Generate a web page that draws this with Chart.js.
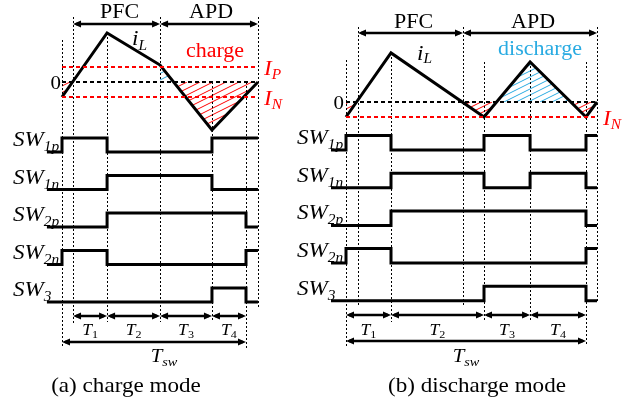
<!DOCTYPE html>
<html>
<head>
<meta charset="utf-8">
<script src="https://cdn.jsdelivr.net/npm/chart.js@4/dist/chart.umd.min.js"></script>
<style>
html, body { margin: 0; padding: 0; background: #fff; }
canvas { display: block; }
</style>
</head>
<body>
<canvas id="wave" width="625" height="403"></canvas>
<script>
// time is given in % of Tsw, current in units of I_P (I_N = -1)

// (a) charge mode
var edgesA = [0, 6, 24.5, 53.3, 81.5, 100, 106.5];
var iLTimeA = [0, 24.5, 53.3, 81.5, 106.5];
var iLValA = [-1, 3.27, 1.13, -3.2, 0];
var startA = -8.2;
var sw1pA = [[0, 1], [24.5, 0], [81.5, 1]];
var sw1nA = [[24.5, 1], [81.5, 0]];
var sw2pA = [[24.5, 1], [100, 0]];
var sw2nA = [[0, 1], [24.5, 0], [100, 1]];
var sw3A = [[81.5, 1], [100, 0]];
var periodsA = [6, 24.5, 53.3, 81.5, 100];   // T1..T4 arrow ends

// (b) discharge mode
var edgesB = [0, 5, 18.75, 48.75, 57.5, 76.7, 100, 104.6];
var iLTimeB = [0, 18.75, 57.5, 76.7, 100, 104.6];
var iLValB = [-1, 3.27, -1, 2.67, -1, 0];
var startB = -6.25;
var sw1pB = [[0, 1], [18.75, 0], [57.5, 1], [76.7, 0], [100, 1]];
var sw1nB = [[18.75, 1], [57.5, 0], [76.7, 1], [100, 0]];
var sw2pB = [[18.75, 1], [100, 0]];
var sw2nB = [[0, 1], [18.75, 0], [100, 1]];
var sw3B = [[57.5, 1], [100, 0]];
var periodsB = [0, 18.75, 57.5, 76.7, 100];

var swSubs = ['1p', '1n', '2p', '2n', '3'];
var IP = 1, IN = -1;

// styles
var RED = '#ff0000', BLUE = '#29abe2';
var SX = 1.1;   // the figure is a little stretched sideways
var FONT = '"Liberation Serif", "Times New Roman", serif';
var pitchA = 2.68, pitchB = 2.6;

function lane(sig, k, start, end, pitch) {
  var off = -k * pitch;
  var pts = [{x: start, y: off}];
  var last = 0;
  sig.forEach(function (p) { pts.push({x: p[0], y: p[1] + off}); last = p[1]; });
  pts.push({x: end, y: last + off});
  return pts;
}

function flat(t0, t1, v) { return [{x: t0, y: v}, {x: t1, y: v}]; }

function zipPts(ts, vs) { return ts.map(function (t, i) { return {x: t, y: vs[i]}; }); }

var datasets = [];
function addLine(data, xId, yId, color, width, dash, stepped) {
  datasets.push({
    data: data, xAxisID: xId, yAxisID: yId, showLine: true,
    borderColor: color, borderWidth: width, borderDash: dash || [],
    pointRadius: 0, fill: false, stepped: stepped || false,
    borderJoinStyle: 'miter', borderCapStyle: 'butt'
  });
}

var endA = edgesA[edgesA.length - 1], endB = edgesB[edgesB.length - 1];
addLine(flat(0, endA, 0), 'xa', 'yia', '#000', 2, [4, 3]);
addLine(flat(0, endA, IP), 'xa', 'yia', RED, 2, [4, 3]);
addLine(flat(0, endA, IN), 'xa', 'yia', RED, 2, [4, 3]);
addLine(flat(0, endB, 0), 'xb', 'yib', '#000', 2, [4, 3]);
addLine(flat(0, endB, IN), 'xb', 'yib', RED, 2, [4, 3]);
addLine(zipPts(iLTimeA, iLValA), 'xa', 'yia', '#000', 3);
addLine(zipPts(iLTimeB, iLValB), 'xb', 'yib', '#000', 3);
[sw1pA, sw1nA, sw2pA, sw2nA, sw3A].forEach(function (s, k) {
  addLine(lane(s, k, startA, endA, pitchA), 'xa', 'ysa', '#000', 3, null, true);
});
[sw1pB, sw1nB, sw2pB, sw2nB, sw3B].forEach(function (s, k) {
  addLine(lane(s, k, startB, endB, pitchB), 'xb', 'ysb', '#000', 3, null, true);
});

// ---- helpers for the overlay ----
function interp(ts, vs, t) {
  for (var i = 0; i < ts.length - 1; i++) {
    if (t >= ts[i] && t <= ts[i + 1]) return vs[i] + (vs[i + 1] - vs[i]) * (t - ts[i]) / (ts[i + 1] - ts[i]);
  }
  return 0;
}

// area between iL and zero, only on one side of zero
function hatchPoly(ts, vs, t0, t1, sign) {
  var br = [t0, t1];
  ts.forEach(function (t) { if (t > t0 && t < t1) br.push(t); });
  for (var i = 0; i < ts.length - 1; i++) {
    var a = vs[i], b = vs[i + 1];
    if ((a < 0 && b > 0) || (a > 0 && b < 0)) {
      var tc = ts[i] + (ts[i + 1] - ts[i]) * (-a) / (b - a);
      if (tc > t0 && tc < t1) br.push(tc);
    }
  }
  br.sort(function (p, q) { return p - q; });
  var pts = br.map(function (t) {
    var v = interp(ts, vs, t);
    return [t, sign > 0 ? Math.max(v, 0) : Math.min(v, 0)];
  });
  pts.push([t1, 0], [t0, 0]);
  return pts;
}

function hatch(ctx, xs, ys, poly, color, gap) {
  var px = poly.map(function (p) { return [xs.getPixelForValue(p[0]), ys.getPixelForValue(p[1])]; });
  var L = 1e9, R = -1e9, T = 1e9, B = -1e9;
  px.forEach(function (p) { L = Math.min(L, p[0]); R = Math.max(R, p[0]); T = Math.min(T, p[1]); B = Math.max(B, p[1]); });
  ctx.save();
  ctx.beginPath();
  px.forEach(function (p, i) { if (i) ctx.lineTo(p[0], p[1]); else ctx.moveTo(p[0], p[1]); });
  ctx.closePath();
  ctx.clip();
  ctx.strokeStyle = color;
  ctx.lineWidth = 1;
  var h = B - T, run = h / 0.5;
  ctx.beginPath();
  for (var x = Math.floor((L - run) / gap) * gap; x <= R; x += gap) {
    ctx.moveTo(x, B);
    ctx.lineTo(x + run, T);
  }
  ctx.stroke();
  ctx.restore();
}

function put(ctx, s, x, y, o) {
  o = o || {};
  ctx.save();
  ctx.font = (o.italic ? 'italic ' : '') + (o.size || 20) + 'px ' + FONT;
  ctx.fillStyle = o.color || '#000';
  ctx.textBaseline = 'alphabetic';
  var w = ctx.measureText(s).width * SX;
  var x0 = o.align === 'center' ? x - w / 2 : (o.align === 'right' ? x - w : x);
  ctx.translate(x0, y);
  ctx.scale(SX, 1);
  ctx.fillText(s, 0, 0);
  ctx.restore();
  return w;
}

function sym(ctx, main, sub, x, y, o) {
  ctx.save();
  ctx.font = 'italic ' + o.size + 'px ' + FONT;
  var wm = ctx.measureText(main).width * SX;
  ctx.font = (o.subUpright ? '' : 'italic ') + o.subSize + 'px ' + FONT;
  var ws = ctx.measureText(sub).width * SX;
  ctx.restore();
  var x0 = o.align === 'center' ? x - (wm + ws) / 2 : x;
  put(ctx, main, x0, y, {italic: true, size: o.size, color: o.color});
  put(ctx, sub, x0 + wm + (o.gap || 0), y + o.drop, {italic: !o.subUpright, size: o.subSize, color: o.color});
}

function arrow(ctx, x1, x2, y) {
  var hl = 8, hw = 3.5;
  ctx.save();
  ctx.strokeStyle = '#000';
  ctx.fillStyle = '#000';
  ctx.lineWidth = 2.5;
  ctx.beginPath();
  ctx.moveTo(x1 + 3, y);
  ctx.lineTo(x2 - 3, y);
  ctx.stroke();
  ctx.beginPath();
  ctx.moveTo(x1, y); ctx.lineTo(x1 + hl, y - hw); ctx.lineTo(x1 + hl, y + hw); ctx.closePath();
  ctx.moveTo(x2, y); ctx.lineTo(x2 - hl, y - hw); ctx.lineTo(x2 - hl, y + hw); ctx.closePath();
  ctx.fill();
  ctx.restore();
}

function guide(ctx, x, y1, y2) {
  ctx.save();
  ctx.strokeStyle = '#000';
  ctx.lineWidth = 1;
  ctx.setLineDash([2, 2]);
  ctx.beginPath();
  ctx.moveTo(Math.round(x) + 0.5, y1);
  ctx.lineTo(Math.round(x) + 0.5, y2);
  ctx.stroke();
  ctx.restore();
}

// vertical extent (px) of each dotted guide, one per edge
var guideSpanA = [[40, 348], [17, 325], [33, 322], [17, 322], [82, 322], [82, 348], [17, 308]];
var guideSpanB = [[60, 346], [27, 307], [53, 322], [27, 307], [62, 322], [62, 322], [62, 346], [27, 303]];

var overlay = {
  id: 'overlay',
  beforeDatasetsDraw: function (chart) {
    var ctx = chart.ctx, s = chart.scales;
    hatch(ctx, s.xa, s.yia, hatchPoly(iLTimeA, iLValA, 0, endA, -1), RED, 13);
    hatch(ctx, s.xa, s.yia, hatchPoly(iLTimeA, iLValA, edgesA[3], endA, 1), BLUE, 13);
    hatch(ctx, s.xb, s.yib, hatchPoly(iLTimeB, iLValB, 0, endB, -1), RED, 11);
    hatch(ctx, s.xb, s.yib, hatchPoly(iLTimeB, iLValB, edgesB[4], edgesB[6], 1), BLUE, 12);
    edgesA.forEach(function (t, i) { guide(ctx, s.xa.getPixelForValue(t), guideSpanA[i][0], guideSpanA[i][1]); });
    edgesB.forEach(function (t, i) { guide(ctx, s.xb.getPixelForValue(t), guideSpanB[i][0], guideSpanB[i][1]); });
  },
  afterDatasetsDraw: function (chart) {
    var ctx = chart.ctx, s = chart.scales;
    var xa = s.xa, xb = s.xb;
    // PFC / APD arrows
    arrow(ctx, xa.getPixelForValue(edgesA[1]), xa.getPixelForValue(edgesA[3]), 24);
    arrow(ctx, xa.getPixelForValue(edgesA[3]), xa.getPixelForValue(endA), 24);
    arrow(ctx, xb.getPixelForValue(edgesB[1]), xb.getPixelForValue(edgesB[3]), 33);
    arrow(ctx, xb.getPixelForValue(edgesB[3]), xb.getPixelForValue(endB), 33);
    put(ctx, 'PFC', (xa.getPixelForValue(edgesA[1]) + xa.getPixelForValue(edgesA[3])) / 2 + 3, 18, {size: 20, align: 'center'});
    put(ctx, 'APD', (xa.getPixelForValue(edgesA[3]) + xa.getPixelForValue(endA)) / 2 + 2, 18, {size: 20, align: 'center'});
    put(ctx, 'PFC', (xb.getPixelForValue(edgesB[1]) + xb.getPixelForValue(edgesB[3])) / 2 + 3, 28, {size: 20, align: 'center'});
    put(ctx, 'APD', (xb.getPixelForValue(edgesB[3]) + xb.getPixelForValue(endB)) / 2 + 3, 28, {size: 20, align: 'center'});

    // current labels
    sym(ctx, 'i', 'L', 132, 45, {size: 21, subSize: 14, drop: 5});
    sym(ctx, 'i', 'L', 417, 60, {size: 21, subSize: 14, drop: 3});
    put(ctx, 'charge', 215, 57, {size: 20, color: RED, align: 'center'});
    put(ctx, 'discharge', 540, 55, {size: 20, color: BLUE, align: 'center'});
    put(ctx, '0', xa.getPixelForValue(0) - 1, s.yia.getPixelForValue(0) + 6.5, {size: 19, align: 'right'});
    put(ctx, '0', xb.getPixelForValue(0) - 2, s.yib.getPixelForValue(0) + 6.5, {size: 19, align: 'right'});
    sym(ctx, 'I', 'P', xa.getPixelForValue(endA) + 6, s.yia.getPixelForValue(IP) + 8, {size: 21, subSize: 14, drop: 4, color: RED});
    sym(ctx, 'I', 'N', xa.getPixelForValue(endA) + 6, s.yia.getPixelForValue(IN) + 8, {size: 21, subSize: 14, drop: 4, color: RED});
    sym(ctx, 'I', 'N', xb.getPixelForValue(endB) + 6, s.yib.getPixelForValue(IN) + 8, {size: 21, subSize: 14, drop: 4, color: RED});

    // switch labels
    swSubs.forEach(function (sub, k) {
      sym(ctx, 'SW', sub, 13, s.ysa.getPixelForValue(-k * pitchA) - 6, {size: 21, subSize: 14, drop: 5});
      sym(ctx, 'SW', sub, 297, s.ysb.getPixelForValue(-k * pitchB) - 6, {size: 21, subSize: 14, drop: 5});
    });

    // period arrows
    [[xa, periodsA, 316, 342, 164], [xb, periodsB, 315, 341, 466]].forEach(function (p) {
      var sc = p[0], per = p[1];
      for (var i = 0; i < 4; i++) {
        var a = sc.getPixelForValue(per[i]), b = sc.getPixelForValue(per[i + 1]);
        arrow(ctx, a, b, p[2]);
        sym(ctx, 'T', String(i + 1), (a + b) / 2, 335, {size: 16, subSize: 11, drop: 3, subUpright: true, align: 'center'});
      }
      arrow(ctx, sc.getPixelForValue(0), sc.getPixelForValue(100), p[3]);
      sym(ctx, 'T', 'sw', p[4], 362, {size: 19, subSize: 13, drop: 4, align: 'center'});
    });

    put(ctx, '(a) charge mode', 126, 392, {size: 21, align: 'center'});
    put(ctx, '(b) discharge mode', 477, 392, {size: 21, align: 'center'});
  }
};

function axis(min, max) { return {type: 'linear', display: false, min: min, max: max}; }

new Chart(document.getElementById('wave'), {
  type: 'scatter',
  data: {datasets: datasets},
  options: {
    responsive: false,
    animation: false,
    events: [],
    layout: {padding: 0},
    plugins: {legend: {display: false}, tooltip: {enabled: false}},
    scales: {
      xa: Object.assign(axis(-62 / 1.84, 563 / 1.84), {position: 'bottom'}),
      xb: Object.assign(axis(-346 / 2.4, 279 / 2.4), {position: 'bottom'}),
      yia: Object.assign(axis(82 / 15 - 403 / 15, 82 / 15), {position: 'left'}),
      yib: Object.assign(axis(102 / 15 - 403 / 15, 102 / 15), {position: 'left'}),
      ysa: Object.assign(axis(152 / 14 - 403 / 14, 152 / 14), {position: 'left'}),
      ysb: Object.assign(axis(150 / 14.5 - 403 / 14.5, 150 / 14.5), {position: 'left'})
    }
  },
  plugins: [overlay]
});
</script>
</body>
</html>
